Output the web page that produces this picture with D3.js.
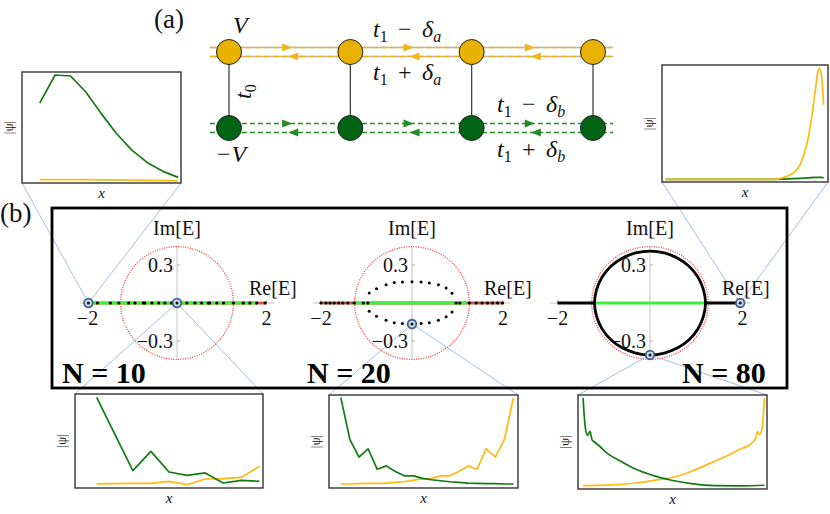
<!DOCTYPE html>
<html><head><meta charset="utf-8">
<script src="https://cdn.jsdelivr.net/npm/d3@7"></script>
<style>body{margin:0;background:#fff}svg{display:block}</style>
</head><body>
<svg id="c" width="830" height="514"></svg>
<script>
// ---------------- data ----------------
const sites = [0, 1, 2, 3];
const hopMid = [0.5, 1.5, 2.5];
const onsiteLabels = ["V", "−V"];
const spectrumN = [10, 20, 80];

// spectra (Re, Im)
const eigReal10 = [-1.98,-1.78,-1.49,-1.3,-1.08,-0.94,-0.75,-0.72,-0.56,-0.41,-0.27,-0.12,0.0,0.22,0.40,0.55,0.70,0.73,0.89,1.04,1.26,1.48,1.63,1.78,1.97];
const circled10 = [[-1.98,0],[0,0]];
const redBand10 = [-2, 2];
const greenBand10 = [-1.88, 1.79];

const eigReal20 = [-2.0,-1.89,-1.8,-1.71,-1.61,-1.52,-1.41,-1.27,-1.07,-0.97,0.97,1.05,1.26,1.41,1.54,1.66,1.77,1.88,1.99];
const eigCplxRe20 = [-0.94,-0.78,-0.57,-0.39,-0.21,0,0.2,0.38,0.58,0.75,0.88];
const eigImTop20 = [0.079,0.113,0.145,0.161,0.166,0.168,0.166,0.158,0.145,0.118,0.076];
const eigImBot20 = [-0.066,-0.105,-0.137,-0.155,-0.161,-0.166,-0.161,-0.155,-0.137,-0.108,-0.071];
const circled20 = [[0,-0.166]];
const redBand20 = [-2, 2];
const greenBand20 = [-1.25, 1.2];

const arcRe80 = [-1.2,-1.155,-1.035,-0.845,-0.6,-0.31,0,0.31,0.6,0.845,1.035,1.155,1.2];
const arcIm80 = [0,0.106,0.205,0.29,0.354,0.395,0.41,0.395,0.354,0.29,0.205,0.106,0];
const blackBands80 = [[-2,-1.2],[1.2,2]];
const greenBand80 = [-1.2, 1.2];
const circled80 = [[0,-0.41],[1.95,0]];

const ellipseRe = 1.26, ellipseIm = 0.445;
const reTicks = [-2, 2];
const imTicks = [0.3, -0.3];
const imTickLabels = ["0.3", "−0.3"];

// insets: |psi| on sites
const tlGreen = [0.72,0.973,0.964,0.82,0.625,0.444,0.294,0.183,0.105,0.051];
const tlOrange = [0.03,0.031,0.031,0.03,0.029,0.028,0.026,0.024,0.021,0.018];

const trOrange = [[1,0.023],[56,0.023],[59,0.034],[62,0.05],[65,0.08],[68,0.14],[70,0.23],[72,0.35],[74,0.55],[76,0.80],[77,0.93],[78,0.97],[79,0.90],[80,0.66]];
const trGreen = [[1,0.023],[55,0.023],[65,0.028],[72,0.035],[76,0.04],[79,0.04],[80,0.035]];

const b1Green = [0.965,0.574,0.184,0.39,0.17,0.135,0.16,0.053,0.082,0.071];
const b1Orange = [0.043,0.046,0.05,0.05,0.071,0.035,0.096,0.099,0.113,0.23];

const b2Green = [0.972,0.521,0.333,0.422,0.202,0.238,0.177,0.131,0.131,0.103,0.089,0.078,0.067,0.06,0.053,0.05,0.046,0.046,0.043,0.043];
const b2Orange = [0.043,0.043,0.046,0.05,0.05,0.053,0.06,0.067,0.085,0.099,0.103,0.131,0.131,0.177,0.238,0.202,0.422,0.333,0.521,0.972];

const b3Green = [[1,0.971],[2,0.65],[3,0.571],[4,0.614],[5,0.52],[6,0.50],[8,0.46],[11,0.39],[17,0.30],[24,0.21],[32,0.14],[40,0.09],[49,0.054],[58,0.036],[70,0.034],[80,0.04]];
const b3Orange = [[1,0.036],[13,0.043],[24,0.064],[34,0.10],[42,0.136],[49,0.196],[56,0.27],[64,0.357],[70,0.43],[73,0.46],[75,0.50],[76,0.53],[77,0.61],[78,0.58],[79,0.65],[80,0.971]];

// ---------------- drawing ----------------
const svg = d3.select("#c");
const SERIF = "Liberation Serif, Times New Roman, serif";
const ORANGE = "#FFB90F", GREEN = "#137a13";
const NODE_O = "#E9B100", NODE_G = "#006414";

function txt(g, x, y, s, o = {}) {
  const t = g.append("text").attr("x", x).attr("y", y).text(s)
    .attr("font-family", SERIF).attr("font-size", o.size || 20)
    .attr("fill", o.fill || "#111");
  if (o.anchor) t.attr("text-anchor", o.anchor);
  if (o.italic) t.attr("font-style", "italic");
  if (o.bold) t.attr("font-weight", "bold");
  if (o.rotate !== undefined) t.attr("transform", `rotate(${o.rotate},${x},${y})`);
  return t;
}

// ----- (a) lattice -----
txt(svg, 154, 28, "(a)", {size: 27});
const xSite = d3.scaleLinear().domain([0, 3]).range([229, 593]);
const ySub = d3.scaleLinear().domain([0, 1]).range([52, 128]);
const lat = svg.append("g");
const rows = [{s: 0, col: "#f0b414", dash: "6 3"}, {s: 1, col: "#248a24", dash: "5 3"}];
rows.forEach(r => {
  [-4.5, 4.5].forEach(off => {
    const y = ySub(r.s) + off;
    if (r.s === 0) lat.append("line").attr("x1", xSite(-0.157)).attr("x2", xSite(3.165)).attr("y1", y).attr("y2", y).attr("stroke", "#b5b5b5").attr("stroke-width", 1.3);
    lat.append("line").attr("x1", xSite(-0.157)).attr("x2", xSite(3.165)).attr("y1", y).attr("y2", y)
      .attr("stroke", r.col).attr("stroke-width", 1.5).attr("stroke-dasharray", r.dash);
  });
  hopMid.forEach(m => {
    const yt = ySub(r.s) - 4.5, yb = ySub(r.s) + 4.5, xm = xSite(m);
    lat.append("path").attr("d", `M${xm + 2.5},${yt} L${xm - 7.5},${yt - 4} L${xm - 7.5},${yt + 4} Z`).attr("fill", r.col);
    lat.append("path").attr("d", `M${xm - 1.5},${yb} L${xm + 8.5},${yb - 4} L${xm + 8.5},${yb + 4} Z`).attr("fill", r.col);
  });
});
sites.forEach(i => {
  lat.append("line").attr("x1", xSite(i)).attr("x2", xSite(i)).attr("y1", ySub(0)).attr("y2", ySub(1))
    .attr("stroke", "#333").attr("stroke-width", 1.2);
});
sites.forEach(i => {
  lat.append("circle").attr("cx", xSite(i)).attr("cy", ySub(0)).attr("r", 12.5).attr("fill", NODE_O).attr("stroke", "#222").attr("stroke-width", 1);
  lat.append("circle").attr("cx", xSite(i)).attr("cy", ySub(1)).attr("r", 12.5).attr("fill", NODE_G).attr("stroke", "#222").attr("stroke-width", 1);
});
txt(svg, 233, 33, onsiteLabels[0], {italic: true, size: 24});
{
  const t = svg.append("text").attr("x", 217).attr("y", 162).attr("font-family", SERIF).attr("font-size", 24).attr("fill", "#111");
  t.append("tspan").text(onsiteLabels[1].slice(0, 1));
  t.append("tspan").attr("font-style", "italic").attr("dx", 1).text(onsiteLabels[1].slice(1));
}

function hopLabel(x, y, sign, sub) {
  const t = svg.append("text").attr("x", x).attr("y", y).attr("font-family", SERIF).attr("font-size", 24).attr("fill", "#111");
  t.append("tspan").attr("font-style", "italic").text("t");
  t.append("tspan").attr("font-size", 16).attr("dy", 5).text("1");
  t.append("tspan").attr("x", x + 25).attr("dy", -5).text(sign);
  t.append("tspan").attr("x", x + 49).attr("font-style", "italic").text("δ");
  t.append("tspan").attr("font-size", 16).attr("dy", 5).attr("font-style", "italic").text(sub);
}
hopLabel(373, 37, "−", "a");
hopLabel(373, 80, "+", "a");
hopLabel(497, 112, "−", "b");
hopLabel(497, 157, "+", "b");
{
  const t = svg.append("text").attr("x", 0).attr("y", 0).attr("font-family", SERIF).attr("font-size", 24).attr("fill", "#111")
    .attr("transform", "translate(251,99) rotate(-90)");
  t.append("tspan").attr("font-style", "italic").text("t");
  t.append("tspan").attr("font-size", 16).attr("dy", 5).text("0");
}

// ----- (b) spectra -----
txt(svg, 0, 222, "(b)", {size: 27});

const insets = {
  tl: {x0: 22, y0: 72, x1: 181, y1: 183, dom: [-0.15, 10.18]},
  tr: {x0: 662, y0: 65, x1: 828, y1: 182, dom: [-0.8, 82.2]},
  b1: {x0: 75, y0: 394, x1: 263, y1: 488, dom: [-0.2, 10.2]},
  b2: {x0: 329, y0: 395, x1: 518, y1: 488, dom: [-0.3, 20.5]},
  b3: {x0: 578, y0: 395, x1: 767, y1: 489, dom: [-1.2, 81.1]}
};

const panels = [
  {N: spectrumN[0], cx: 177, hw: 89.5, nx: 62},
  {N: spectrumN[1], cx: 412, hw: 91, nx: 307},
  {N: spectrumN[2], cx: 650, hw: 92.5, nx: 682}
];
panels.forEach(p => {
  p.xS = d3.scaleLinear().domain([-2, 2]).range([p.cx - p.hw, p.cx + p.hw]);
  p.yS = d3.scaleLinear().domain([-0.3, 0.3]).range([341, 265]);
});

const conn = svg.append("g").attr("stroke", "#9bb8dd").attr("stroke-width", 0.9).attr("fill", "none");
function connect(p, pt, box, top) {
  const x = p.xS(pt[0]), y = p.yS(pt[1]);
  const yy = top ? box.y0 : box.y1;
  conn.append("line").attr("x1", x).attr("y1", y).attr("x2", box.x0).attr("y2", yy);
  conn.append("line").attr("x1", x).attr("y1", y).attr("x2", box.x1).attr("y2", yy);
}

svg.append("rect").attr("x", 52).attr("y", 208).attr("width", 735).attr("height", 180)
  .attr("fill", "none").attr("stroke", "#000").attr("stroke-width", 2.8);

panels.forEach(p => {
  const g = svg.append("g");
  const {xS, yS} = p;
  g.append("line").attr("x1", xS(-2.17)).attr("x2", xS(2.17)).attr("y1", yS(0)).attr("y2", yS(0)).attr("stroke", "#c4c4c4").attr("stroke-width", 1);
  g.append("line").attr("x1", xS(0)).attr("x2", xS(0)).attr("y1", yS(0.45)).attr("y2", yS(-0.45)).attr("stroke", "#c4c4c4").attr("stroke-width", 1);
  imTicks.forEach(v => g.append("line").attr("x1", xS(0)).attr("x2", xS(0) + 3).attr("y1", yS(v)).attr("y2", yS(v)).attr("stroke", "#aaa"));
  reTicks.forEach(v => g.append("line").attr("x1", xS(v)).attr("x2", xS(v)).attr("y1", yS(0)).attr("y2", yS(0) - 3).attr("stroke", "#aaa"));
  g.append("ellipse").attr("cx", xS(0)).attr("cy", yS(0)).attr("rx", xS(ellipseRe) - xS(0)).attr("ry", yS(0) - yS(ellipseIm))
    .attr("fill", "none").attr("stroke", "#ff3a3a").attr("stroke-width", 1.3).attr("stroke-dasharray", "1 1.4");
  p.g = g;
});

function band(p, r, col, w) {
  p.g.append("line").attr("x1", p.xS(r[0])).attr("x2", p.xS(r[1])).attr("y1", p.yS(0)).attr("y2", p.yS(0))
    .attr("stroke", col).attr("stroke-width", w);
}
function dots(p, pts, r) {
  p.g.selectAll(null).data(pts).join("circle").attr("cx", d => p.xS(d[0])).attr("cy", d => p.yS(d[1])).attr("r", r).attr("fill", "#000");
}
function rings(p, pts) {
  pts.forEach(d => {
    p.g.append("circle").attr("cx", p.xS(d[0])).attr("cy", p.yS(d[1])).attr("r", 4.3).attr("fill", "#cfd9e6").attr("stroke", "#3d5f8c").attr("stroke-width", 1.8);
    p.g.append("circle").attr("cx", p.xS(d[0])).attr("cy", p.yS(d[1])).attr("r", 1.5).attr("fill", "#111");
  });
}

band(panels[0], redBand10, "#e8583a", 3);
band(panels[0], greenBand10, "#3cf03c", 3);
dots(panels[0], eigReal10.map(v => [v, 0]), 1.6);

band(panels[1], redBand20, "#c8583a", 3);
band(panels[1], greenBand20, "#3cf03c", 3);
dots(panels[1], eigReal20.map(v => [v, 0]), 1.6);
dots(panels[1], eigCplxRe20.map((v, i) => [v, eigImTop20[i]]), 1.5);
dots(panels[1], eigCplxRe20.map((v, i) => [v, eigImBot20[i]]), 1.5);

blackBands80.forEach(b => band(panels[2], b, "#000", 3.2));
band(panels[2], greenBand80, "#3cf03c", 3);
{
  const p = panels[2];
  const upper = arcRe80.map((v, i) => [v, arcIm80[i]]);
  const lower = arcRe80.slice(1, -1).map((v, i) => [v, -arcIm80[i + 1]]).reverse();
  const loop = upper.concat(lower);
  p.g.append("path").attr("d", d3.line().x(d => p.xS(d[0])).y(d => p.yS(d[1])).curve(d3.curveCatmullRomClosed)(loop))
    .attr("fill", "none").attr("stroke", "#000").attr("stroke-width", 2.8);
}

connect(panels[0], circled10[0], insets.tl, false);
connect(panels[0], circled10[1], insets.b1, true);
connect(panels[1], circled20[0], insets.b2, true);
connect(panels[2], circled80[0], insets.b3, true);
connect(panels[2], circled80[1], insets.tr, false);

rings(panels[0], circled10);
rings(panels[1], circled20);
rings(panels[2], circled80);

panels.forEach(p => {
  const g = p.g, cx = p.xS(0);
  txt(g, cx, 235, "Im[E]", {anchor: "middle"});
  txt(g, cx + 72, 295, "Re[E]");
  imTicks.forEach((v, i) => txt(g, cx - 4, p.yS(v) + 7, imTickLabels[i], {anchor: "end"}));
  reTicks.forEach(v => txt(g, p.xS(v), 325, v < 0 ? "−2" : "2", {anchor: "middle"}));
  txt(g, p.nx, 383, "N = " + p.N, {bold: true, size: 30, fill: "#000"});
});

// ----- insets -----
function inset(box, series) {
  const g = svg.append("g");
  const xS = d3.scaleLinear().domain(box.dom).range([box.x0, box.x1]);
  const yS = d3.scaleLinear().domain([0, 1]).range([box.y1, box.y0]);
  g.append("rect").attr("x", box.x0).attr("y", box.y0).attr("width", box.x1 - box.x0).attr("height", box.y1 - box.y0)
    .attr("fill", "#fff").attr("stroke", "#333").attr("stroke-width", 1.4);
  series.forEach(s => {
    g.append("path").attr("d", d3.line().x(d => xS(d[0])).y(d => yS(d[1])).curve(s.curve || d3.curveLinear)(s.pts))
      .attr("fill", "none").attr("stroke", s.col).attr("stroke-width", 1.7).attr("stroke-linejoin", "round");
  });
  txt(g, box.x0 - 9, (box.y0 + box.y1) / 2, "|ψ|", {anchor: "middle", size: 13, rotate: -90});
  txt(g, (box.x0 + box.x1) / 2, box.y1 + 15, "x", {anchor: "middle", size: 15, italic: true});
}
const idx = arr => arr.map((v, i) => [i + 1, v]);
inset(insets.tl, [{col: ORANGE, pts: idx(tlOrange)}, {col: GREEN, pts: idx(tlGreen)}]);
inset(insets.tr, [{col: GREEN, pts: trGreen, curve: d3.curveMonotoneX}, {col: ORANGE, pts: trOrange, curve: d3.curveMonotoneX}]);
inset(insets.b1, [{col: ORANGE, pts: idx(b1Orange)}, {col: GREEN, pts: idx(b1Green)}]);
inset(insets.b2, [{col: ORANGE, pts: idx(b2Orange)}, {col: GREEN, pts: idx(b2Green)}]);
inset(insets.b3, [{col: ORANGE, pts: b3Orange, curve: d3.curveMonotoneX}, {col: GREEN, pts: b3Green, curve: d3.curveMonotoneX}]);
</script>
</body></html>
